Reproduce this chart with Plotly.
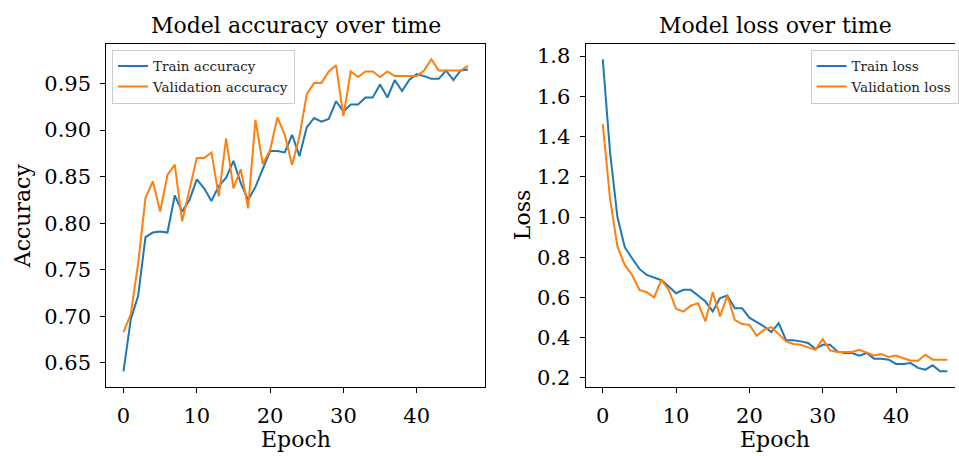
import plotly.graph_objects as go

epochs = list(range(48))

train_acc = [0.641, 0.697, 0.722, 0.785, 0.790, 0.791, 0.790, 0.830, 0.8125, 0.825,
             0.847, 0.8375, 0.824, 0.840, 0.849, 0.867, 0.843, 0.825, 0.839, 0.859,
             0.8775, 0.8775, 0.876, 0.895, 0.872, 0.903, 0.913, 0.909, 0.912, 0.931,
             0.920, 0.9275, 0.9275, 0.935, 0.935, 0.949, 0.935, 0.9536, 0.942, 0.954,
             0.960, 0.958, 0.955, 0.955, 0.964, 0.9536, 0.964, 0.965]
val_acc = [0.683, 0.7025, 0.757, 0.827, 0.845, 0.8125, 0.852, 0.863, 0.802, 0.836,
           0.870, 0.870, 0.876, 0.829, 0.891, 0.8375, 0.858, 0.816, 0.911, 0.8636,
           0.8786, 0.9136, 0.895, 0.8625, 0.893, 0.9386, 0.9507, 0.9507, 0.963, 0.9696,
           0.915, 0.963, 0.957, 0.963, 0.963, 0.957, 0.963, 0.958, 0.958, 0.958,
           0.958, 0.964, 0.976, 0.964, 0.964, 0.964, 0.964, 0.969]
train_loss = [1.784, 1.319, 1.000, 0.850, 0.795, 0.742, 0.712, 0.699, 0.686, 0.655,
              0.621, 0.638, 0.638, 0.610, 0.580, 0.531, 0.597, 0.610, 0.547, 0.547,
              0.500, 0.478, 0.456, 0.428, 0.473, 0.388, 0.388, 0.382, 0.374, 0.345,
              0.365, 0.365, 0.332, 0.324, 0.324, 0.311, 0.324, 0.296, 0.296, 0.291,
              0.270, 0.270, 0.274, 0.250, 0.241, 0.263, 0.233, 0.233]
val_loss = [1.462, 1.088, 0.853, 0.762, 0.712, 0.638, 0.626, 0.600, 0.688, 0.638,
            0.544, 0.530, 0.559, 0.572, 0.481, 0.626, 0.506, 0.610, 0.489, 0.468,
            0.464, 0.410, 0.440, 0.453, 0.418, 0.382, 0.369, 0.365, 0.352, 0.340,
            0.393, 0.337, 0.329, 0.329, 0.329, 0.340, 0.324, 0.312, 0.319, 0.304,
            0.311, 0.300, 0.286, 0.286, 0.316, 0.291, 0.291, 0.291]

acc_ticks = [0.65, 0.70, 0.75, 0.80, 0.85, 0.90, 0.95]
loss_ticks = [0.2, 0.4, 0.6, 0.8, 1.0, 1.2, 1.4, 1.6, 1.8]
epoch_ticks = [0, 10, 20, 30, 40]

W, H = 959, 456
FONT = "DejaVu Serif"
BLUE, ORANGE = "#1f77b4", "#ff7f0e"


def px(x):
    return x / W


def py(y):
    return 1 - y / H


def pad(lo, hi, f=0.05):
    d = (hi - lo) * f
    return [lo - d, hi + d]


fig = go.Figure()
fig.add_trace(go.Scatter(x=epochs, y=train_acc, mode="lines", name="Train accuracy",
                         line=dict(color=BLUE, width=2), xaxis="x", yaxis="y", legend="legend"))
fig.add_trace(go.Scatter(x=epochs, y=val_acc, mode="lines", name="Validation accuracy",
                         line=dict(color=ORANGE, width=2), xaxis="x", yaxis="y", legend="legend"))
fig.add_trace(go.Scatter(x=epochs, y=train_loss, mode="lines", name="Train loss",
                         line=dict(color=BLUE, width=2), xaxis="x2", yaxis="y2", legend="legend2"))
fig.add_trace(go.Scatter(x=epochs, y=val_loss, mode="lines", name="Validation loss",
                         line=dict(color=ORANGE, width=2), xaxis="x2", yaxis="y2", legend="legend2"))

axis_common = dict(showline=True, linecolor="black", linewidth=1, ticks="outside", ticklen=5,
                   tickwidth=1, tickcolor="black", showgrid=False, zeroline=False,
                   tickfont=dict(family=FONT, size=21, color="black"))

xr = pad(0, len(epochs) - 1)
acc_r = pad(min(train_acc + val_acc), max(train_acc + val_acc))
loss_r = pad(min(train_loss + val_loss), max(train_loss + val_loss))

left_l, left_r = 106.7, 487.3
right_l = 588.0
right_full_r = right_l + (left_r - left_l)
# right panel is cropped at the page edge
right_xmax = xr[0] + (xr[1] - xr[0]) * (W - right_l) / (right_full_r - right_l)
top, bottom = 44.0, 389.5

fig.update_layout(
    width=W, height=H, margin=dict(l=0, r=0, t=0, b=0),
    paper_bgcolor="white", plot_bgcolor="white",
    xaxis=dict(axis_common, domain=[px(left_l), px(left_r)], range=xr, mirror=True,
               tickvals=epoch_ticks, anchor="y", ticklabelstandoff=5),
    yaxis=dict(axis_common, domain=[py(bottom), py(top)], range=acc_r, mirror=True,
               tickvals=acc_ticks, tickformat=".2f", anchor="x", ticklabelstandoff=5),
    xaxis2=dict(axis_common, domain=[px(right_l), 1.0], range=[xr[0], right_xmax], mirror=True,
                tickvals=epoch_ticks, anchor="y2", ticklabelstandoff=5),
    yaxis2=dict(axis_common, domain=[py(bottom), py(top)], range=loss_r, mirror=False,
                tickvals=loss_ticks, tickformat=".1f", anchor="x2", ticklabelstandoff=5),
    legend=dict(x=px(112.5), y=py(50), xanchor="left", yanchor="top",
                bgcolor="rgba(255,255,255,0.8)", bordercolor="#cccccc", borderwidth=1,
                font=dict(family=FONT, size=13.5, color="#222222"), tracegroupgap=0),
    legend2=dict(x=px(814), y=py(50), xanchor="left", yanchor="top",
                 bgcolor="rgba(255,255,255,0.8)", bordercolor="#cccccc", borderwidth=1,
                 font=dict(family=FONT, size=13.5, color="#222222"), tracegroupgap=0),
    showlegend=True,
)

ann_font = dict(family=FONT, size=22, color="black")
fig.add_annotation(text="Model accuracy over time", x=px((left_l + left_r) / 2), y=py(26),
                   xref="paper", yref="paper", showarrow=False, xanchor="center",
                   yanchor="middle", font=ann_font)
fig.add_annotation(text="Model loss over time", x=px((right_l + right_full_r) / 2), y=py(26),
                   xref="paper", yref="paper", showarrow=False, xanchor="center",
                   yanchor="middle", font=ann_font)
fig.add_annotation(text="Epoch", x=px((left_l + left_r) / 2), y=py(442),
                   xref="paper", yref="paper", showarrow=False, xanchor="center",
                   yanchor="middle", font=ann_font)
fig.add_annotation(text="Epoch", x=px((right_l + right_full_r) / 2), y=py(442),
                   xref="paper", yref="paper", showarrow=False, xanchor="center",
                   yanchor="middle", font=ann_font)
fig.add_annotation(text="Accuracy", x=px(22), y=py((top + bottom) / 2), textangle=-90,
                   xref="paper", yref="paper", showarrow=False, xanchor="center",
                   yanchor="middle", font=ann_font)
fig.add_annotation(text="Loss", x=px(525), y=py((top + bottom) / 2), textangle=-90,
                   xref="paper", yref="paper", showarrow=False, xanchor="center",
                   yanchor="middle", font=ann_font)

fig.write_html("out.html")
